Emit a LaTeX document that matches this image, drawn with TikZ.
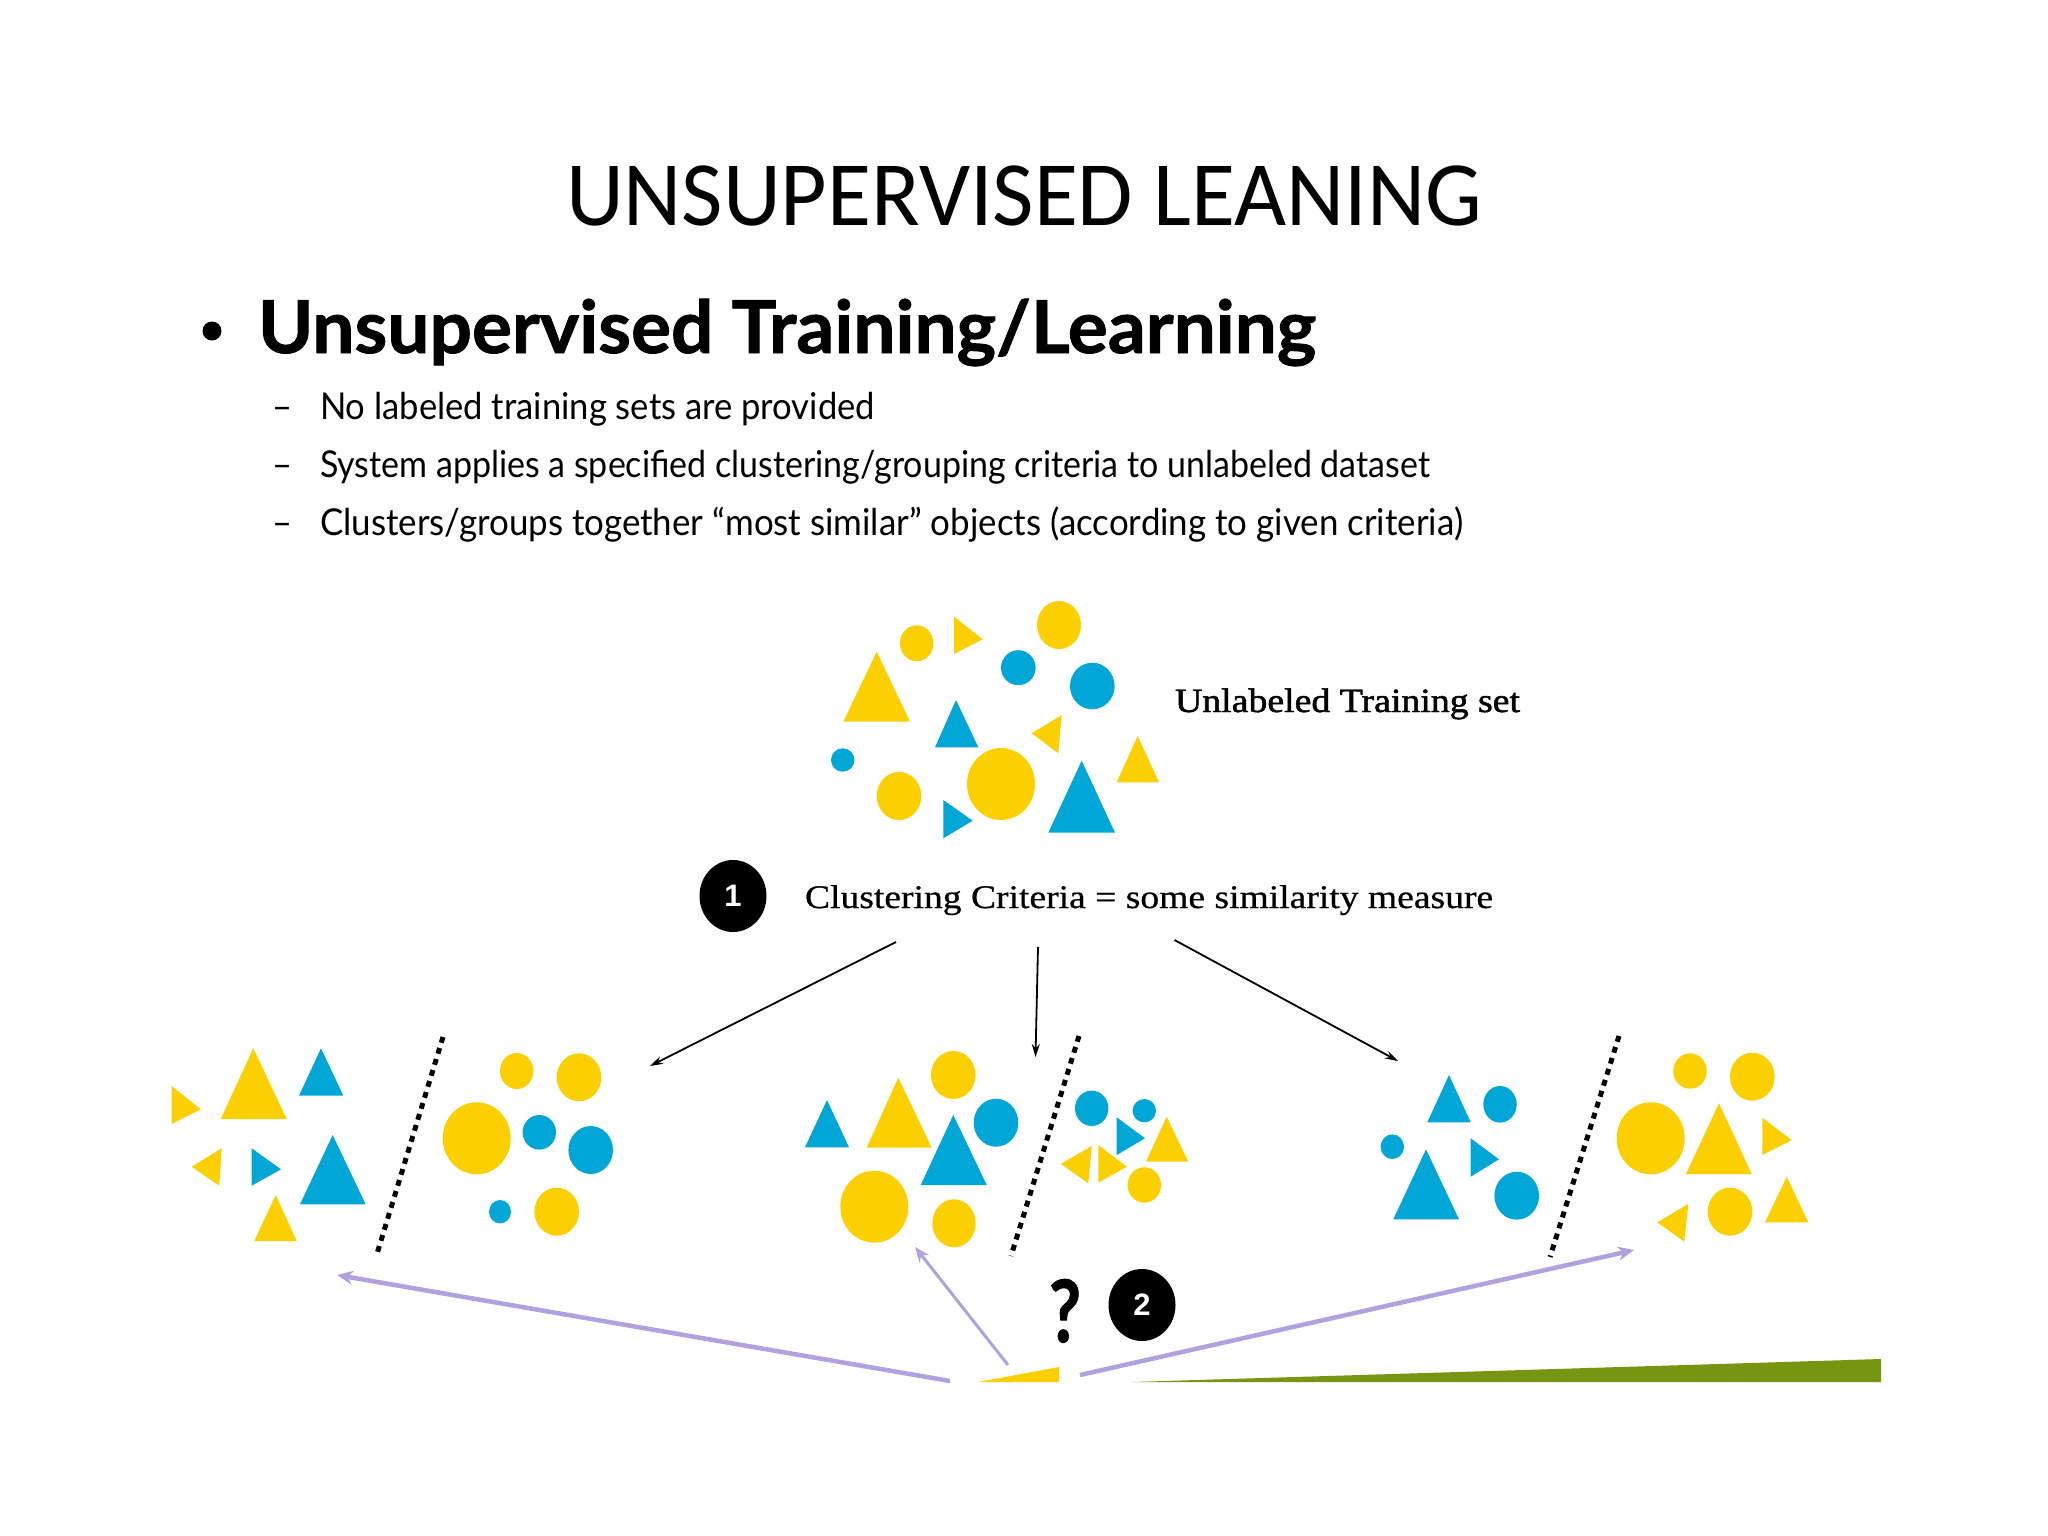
\documentclass[tikz,border=0pt]{standalone}
\usepackage{fontspec}
\usepackage{graphicx}
\setmainfont{Liberation Serif}
\newfontfamily\titlefont{Carlito}
\newfontfamily\gillfont{Lato}
\newfontfamily\heavyfont[FakeBold=1.2]{Lato}
\newfontfamily\darkserif[FakeBold=1.4]{Liberation Serif}
\newfontfamily\midserif[FakeBold=0.6]{Liberation Serif}
\newfontfamily\digitfont{Liberation Sans}
\usetikzlibrary{arrows.meta,shapes.geometric}
\definecolor{ycol}{RGB}{252,208,0}
\definecolor{bcol}{RGB}{0,166,214}
\definecolor{pcol}{RGB}{176,162,222}
\definecolor{gcol}{RGB}{118,150,18}
\newcommand\fitto[2]{\resizebox{#1}{\height}{#2}}
\newcommand\myblob[5]{\fill[#1] (#2,#3) ellipse [x radius=#4, y radius=#5];}
\newcommand\mytri[7]{\fill[#1] (#2,#3) -- (#4,#5) -- (#6,#7) -- cycle;}
\begin{document}
\begin{tikzpicture}[x=1pt,y=-1pt,
  txt/.style={anchor=base west, inner sep=0pt, outer sep=0pt},
  numdisc/.style={ellipse, fill=black, inner sep=0pt, minimum width=67pt, minimum height=72pt, text=white, font=\digitfont\bfseries\fontsize{31}{32}\selectfont},
  blackarrow/.style={draw=black, line width=1.8pt, -{Stealth[length=13pt,width=8pt]}},
  purplearrow/.style={draw=pcol, line width=4.5pt, -{Stealth[length=16pt,width=14pt]}},
  thinpurple/.style={draw=pcol, line width=3pt, -{Stealth[length=15pt,width=12pt]}},
  dashline/.style={draw=black, line width=5pt, dash pattern=on 6pt off 5.5pt}]
\useasboundingbox (0,0) rectangle (2048,1536);
\fill[white] (0,0) rectangle (2048,1536);

% ---------- texts ----------
\node[txt] (title) at (566,225.5) {\fitto{916pt}{\titlefont\fontsize{92}{100}\selectfont UNSUPERVISED LEANING}};
\node[circle, fill=black, minimum size=19pt, inner sep=0pt] (bullet) at (212,331) {};
\node[txt] (heading) at (258,353) {\fitto{1058pt}{\heavyfont\bfseries\fontsize{73}{80}\selectfont Unsupervised Training/Learning}};
\node[txt] (dash1) at (272,419) {\fitto{20pt}{\gillfont\fontsize{37}{40}\selectfont –}};
\node[txt] (dash2) at (272,477) {\fitto{20pt}{\gillfont\fontsize{37}{40}\selectfont –}};
\node[txt] (dash3) at (272,535) {\fitto{20pt}{\gillfont\fontsize{37}{40}\selectfont –}};
\node[txt] (line1) at (320,419) {\fitto{555pt}{\gillfont\fontsize{37}{40}\selectfont No labeled training sets are provided}};
\node[txt] (line2) at (320,477) {\fitto{1110pt}{\gillfont\fontsize{37}{40}\selectfont System applies a specified clustering/grouping criteria to unlabeled dataset}};
\node[txt] (line3) at (320,535) {\fitto{1143pt}{\gillfont\fontsize{37}{40}\selectfont Clusters/groups together “most similar” objects (according to given criteria)}};

\node[txt] (unlabeled) at (1175,712) {\fitto{345pt}{\darkserif\fontsize{34}{36}\selectfont Unlabeled Training set}};
\node[numdisc] (one) at (733,896) {1};
\node[txt] (criteria) at (805,908) {\fitto{688pt}{\midserif\fontsize{33}{36}\selectfont Clustering Criteria = some similarity measure}};
\node[anchor=base, inner sep=0pt] (qmark) at (1065,1342) {\fitto{32pt}{\heavyfont\bfseries\fontsize{86}{90}\selectfont ?}};
\node[numdisc] (two) at (1142,1305) {2};

% ---------- unlabeled set ----------
\myblob{ycol}{916.7}{643.3}{16.7}{18}
\myblob{ycol}{1059}{625}{22}{24}
\myblob{ycol}{899}{796}{22.3}{24}
\myblob{ycol}{1001}{784}{34}{36}
\myblob{bcol}{1018.3}{667.7}{17.3}{17.5}
\myblob{bcol}{1092.3}{686}{22.3}{23.3}
\myblob{bcol}{842.7}{760}{11.7}{11.7}
\mytri{ycol}{954}{616.7}{954}{654}{982.7}{639.3}
\mytri{ycol}{843.3}{721.7}{910}{721.7}{876.7}{651.7}
\mytri{ycol}{1031.7}{733.3}{1061.7}{715}{1058.3}{753.3}
\mytri{ycol}{1116.7}{782.3}{1159}{782.3}{1137.7}{736}
\mytri{bcol}{935}{747.3}{978.3}{747.3}{956}{700}
\mytri{bcol}{943.3}{800}{943.3}{838.3}{972.7}{820.7}
\mytri{bcol}{1048.3}{832.7}{1115}{832.7}{1081.7}{760.7}

% ---------- clustering A: triangles | circles ----------
\mytri{ycol}{171.7}{1086}{171.7}{1124}{200.7}{1109.3}
\mytri{ycol}{220.7}{1119}{286.7}{1119}{253.3}{1048.3}
\mytri{bcol}{299}{1095.7}{343.3}{1095.7}{321}{1048.3}
\mytri{ycol}{191.7}{1166.7}{221.7}{1148.3}{219.3}{1185.7}
\mytri{bcol}{251.7}{1148.3}{251.7}{1185.7}{281}{1169.3}
\mytri{bcol}{300}{1204.3}{365.7}{1204.3}{332.7}{1135}
\mytri{ycol}{254.3}{1241}{296.7}{1241}{275.7}{1195}
\myblob{ycol}{516.7}{1071}{16.7}{18}
\myblob{ycol}{579}{1077.3}{22.3}{24}
\myblob{ycol}{476.7}{1138.3}{34}{36}
\myblob{bcol}{539.3}{1132.3}{16.7}{17.3}
\myblob{bcol}{590.7}{1150}{22.3}{24}
\myblob{bcol}{500}{1211.7}{11}{11.7}
\myblob{ycol}{556.7}{1211.7}{22.3}{24}

% ---------- clustering B: large | small ----------
\mytri{bcol}{805}{1147.3}{849}{1147.3}{827}{1100}
\mytri{ycol}{866.7}{1147.7}{931.7}{1147.7}{898.3}{1077.7}
\myblob{ycol}{953.3}{1075}{22.3}{24}
\myblob{bcol}{996}{1122.7}{22.3}{24}
\mytri{bcol}{920.7}{1185}{986.7}{1185}{953.3}{1115}
\myblob{ycol}{874.3}{1206.7}{34}{36}
\myblob{ycol}{954}{1223.3}{21.7}{24}
\myblob{bcol}{1091.7}{1108.3}{16.7}{17.7}
\myblob{bcol}{1144.3}{1110.7}{11.7}{11.7}
\mytri{bcol}{1116.7}{1117.3}{1116.7}{1155}{1145}{1138.3}
\mytri{ycol}{1146}{1161.7}{1188.3}{1161.7}{1166.7}{1116.7}
\mytri{ycol}{1061}{1164}{1091.7}{1146}{1088.3}{1183.3}
\mytri{ycol}{1098.3}{1145}{1098.3}{1182.7}{1126.7}{1166.7}
\myblob{ycol}{1144.3}{1185}{16.7}{17.7}

% ---------- clustering C: blue | yellow ----------
\mytri{bcol}{1427.3}{1122.3}{1470.7}{1122.3}{1449}{1075}
\myblob{bcol}{1500}{1104.3}{16.7}{18.3}
\myblob{bcol}{1392.3}{1146.7}{11.7}{12.3}
\mytri{bcol}{1470.7}{1138.3}{1470.7}{1176.7}{1499}{1159.3}
\mytri{bcol}{1393.3}{1219.3}{1459}{1219.3}{1426}{1149.3}
\myblob{bcol}{1516.7}{1195.7}{22.3}{24}
\myblob{ycol}{1690}{1071}{16.7}{17.7}
\myblob{ycol}{1752.3}{1076.7}{22.3}{24}
\myblob{ycol}{1650.7}{1138.3}{34}{36}
\mytri{ycol}{1686}{1174}{1751.7}{1174}{1719}{1103.3}
\mytri{ycol}{1762.3}{1117.7}{1762.3}{1155}{1791.7}{1140}
\mytri{ycol}{1657.3}{1222.3}{1688.3}{1204}{1684.3}{1241.7}
\myblob{ycol}{1730}{1211.7}{22.3}{24}
\mytri{ycol}{1765}{1222.3}{1808.3}{1222.3}{1786.7}{1176.7}

% ---------- dashed separators ----------
\coordinate (d1a) at (443,1037); \coordinate (d1b) at (376,1257);
\coordinate (d2a) at (1079,1036); \coordinate (d2b) at (1011,1256);
\coordinate (d3a) at (1619,1036); \coordinate (d3b) at (1550,1257);
\draw[dashline] (d1a) -- (d1b);
\draw[dashline] (d2a) -- (d2b);
\draw[dashline] (d3a) -- (d3b);

% ---------- black arrows ----------
\coordinate (bl0) at (896,942);   \coordinate (bl1) at (650,1066);
\coordinate (bm0) at (1038,947);  \coordinate (bm1) at (1035.5,1057);
\coordinate (br0) at (1174.5,940);\coordinate (br1) at (1398,1061);
\draw[blackarrow] (bl0) -- (bl1);
\draw[blackarrow] (bm0) -- (bm1);
\draw[blackarrow] (br0) -- (br1);

% ---------- bottom bars ----------
\fill[ycol] (978,1382) -- (1059,1367) -- (1059,1382) -- cycle;
\fill[gcol] (1132,1382) -- (1881,1359) -- (1881,1382) -- cycle;

% ---------- purple arrows ----------
\coordinate (pl0) at (950,1381);  \coordinate (pl1) at (337,1275);
\coordinate (pm0) at (1008,1365); \coordinate (pm1) at (915,1247);
\coordinate (pr0) at (1080,1375); \coordinate (pr1) at (1634,1250);
\draw[purplearrow] (pl0) -- (pl1);
\draw[thinpurple] (pm0) -- (pm1);
\draw[purplearrow] (pr0) -- (pr1);
\end{tikzpicture}
\end{document}
